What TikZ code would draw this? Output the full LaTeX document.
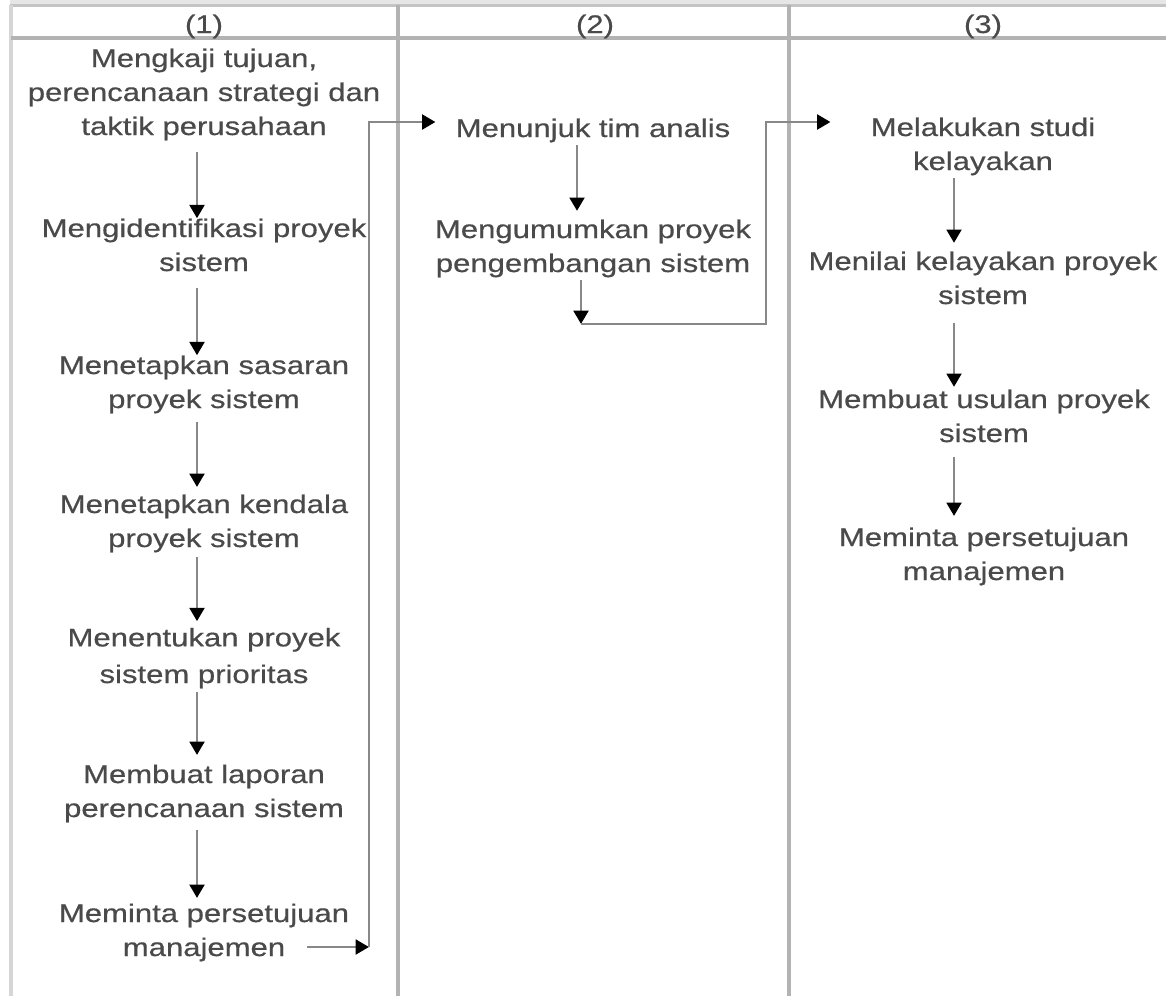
\documentclass[tikz,border=0pt]{standalone}
\usepackage{fontspec}
\setmainfont{Liberation Sans}[FakeStretch=1.22,FakeBold=0.5]
\usetikzlibrary{arrows.meta}
\definecolor{txt}{HTML}{4A4A4A}
\definecolor{conncol}{HTML}{888888}
\definecolor{framecol}{HTML}{B3B3B3}
\definecolor{leftcol}{HTML}{D6D6D6}
\definecolor{topcol}{HTML}{C4C4C4}
\definecolor{bandcol}{HTML}{E6E6E6}
\begin{document}
\begin{tikzpicture}[x=0.75pt,y=-0.75pt,
  stepnode/.style={inner sep=0pt, align=center, anchor=base, text=txt,
    font=\fontsize{19.1}{25.5}\selectfont},
  frame/.style={draw=framecol, line width=2.4pt},
  conn/.style={draw=conncol, line width=2.2pt,
    -{Triangle[length=10pt,width=11pt,color=black,fill=black]}}]
\useasboundingbox (0,0) rectangle (1166,996);
% frame
\fill[bandcol] (10,0) rectangle (1166,4);
\draw[topcol, line width=1.6pt] (10,5.5) -- (1166,5.5);
\draw[leftcol, line width=2.4pt] (11,5) -- (11,996);
\draw[frame] (11,38) -- (1166,38);
\draw[frame] (398,5) -- (398,996);
\draw[frame] (789,5) -- (789,996);
% headers
\node[stepnode] (h1) at (204,33) {(1)};
\node[stepnode] (h2) at (595,33) {(2)};
\node[stepnode] (h3) at (983,33) {(3)};
% column 1 (anchor base = baseline of the last line)
\node[stepnode] (n1) at (204,135) {Mengkaji tujuan,\\perencanaan strategi dan\\taktik perusahaan};
\node[stepnode] (n2) at (204,271) {Mengidentifikasi proyek\\sistem};
\node[stepnode] (n3) at (204,408) {Menetapkan sasaran\\proyek sistem};
\node[stepnode] (n4) at (204,547) {Menetapkan kendala\\proyek sistem};
\node[stepnode] (n5) at (204,683) {Menentukan proyek\\[2pt]sistem prioritas};
\node[stepnode] (n6) at (204,817) {Membuat laporan\\perencanaan sistem};
\node[stepnode] (n7) at (204,956) {Meminta persetujuan\\manajemen};
% column 2
\node[stepnode] (n8) at (593,137) {Menunjuk tim analis};
\node[stepnode] (n9) at (593,272) {Mengumumkan proyek\\pengembangan sistem};
% column 3
\node[stepnode] (n10) at (983,170) {Melakukan studi\\kelayakan};
\node[stepnode] (n11) at (983,304) {Menilai kelayakan proyek\\sistem};
\node[stepnode] (n12) at (984,442) {Membuat usulan proyek\\sistem};
\node[stepnode] (n13) at (984,580) {Meminta persetujuan\\manajemen};
% arrow columns
\coordinate (x1) at (197,0);
\coordinate (x2) at (577,0);
\coordinate (x2b) at (581,0);
\coordinate (x3) at (954,0);
% column 1 arrows
\draw[conn, shorten <=8.7pt] (n1.south -| x1) -- (n2.north -| x1);
\draw[conn, shorten <=12pt] (n2.south -| x1) -- (n3.north -| x1);
\draw[conn, shorten <=6.5pt, shorten >=5.5pt] (n3.south -| x1) -- (n4.north -| x1);
\draw[conn, shorten <=3.5pt, shorten >=4.8pt] (n4.south -| x1) -- (n5.north -| x1);
\draw[conn, shorten <=2.7pt, shorten >=7pt] (n5.south -| x1) -- (n6.north -| x1);
\draw[conn, shorten <=5.7pt, shorten >=4pt] (n6.south -| x1) -- (n7.north -| x1);
% column 1 -> column 2
\coordinate (b0) at (307,947);
\coordinate (b1) at (369,947);
\coordinate (b2) at (369,122);
\draw[conn] (b0) -- (b1);
\draw[conn, shorten >=15pt] (b1) -- (b2) -- (n8.west |- b2);
% column 2 arrows
\draw[conn, shorten <=2pt, shorten >=6.3pt] (n8.south -| x2) -- (n9.north -| x2);
\coordinate (b3) at (581,324);
\coordinate (b4) at (766,324);
\coordinate (b5) at (766,122);
\draw[conn, shorten <=2pt] (n9.south -| x2b) -- (b3);
\draw[conn, shorten >=30pt] (b3) -- (b4) -- (b5) -- (n10.west |- b5);
% column 3 arrows
\draw[conn, shorten <=2pt, shorten >=6.3pt] (n10.south -| x3) -- (n11.north -| x3);
\draw[conn, shorten <=13.5pt, shorten >=1.8pt] (n11.south -| x3) -- (n12.north -| x3);
\draw[conn, shorten <=11.2pt, shorten >=8.5pt] (n12.south -| x3) -- (n13.north -| x3);
\end{tikzpicture}
\end{document}
